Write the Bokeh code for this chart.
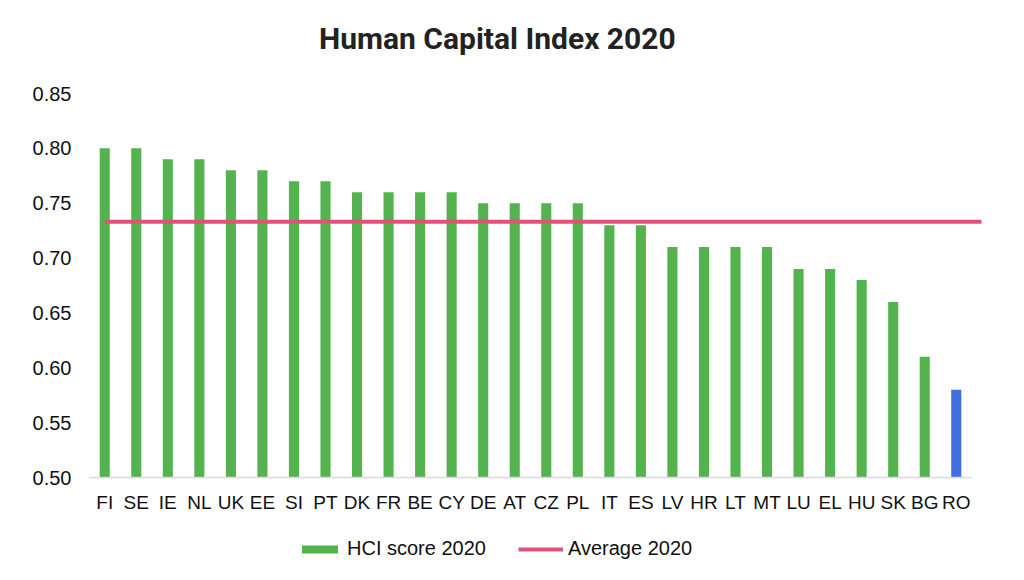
from bokeh.plotting import figure
from bokeh.models import ColumnDataSource, FactorRange, Range1d, FixedTicker, NumeralTickFormatter, Legend, LegendItem, Label
from bokeh.transform import dodge
from bokeh.core.properties import value
from bokeh.embed import file_html
from bokeh.resources import INLINE

countries = ["FI", "SE", "IE", "NL", "UK", "EE", "SI", "PT", "DK", "FR", "BE", "CY", "DE", "AT",
             "CZ", "PL", "IT", "ES", "LV", "HR", "LT", "MT", "LU", "EL", "HU", "SK", "BG", "RO"]
hci_2020 = [0.80, 0.80, 0.79, 0.79, 0.78, 0.78, 0.77, 0.77, 0.76, 0.76, 0.76, 0.76, 0.75, 0.75,
            0.75, 0.75, 0.73, 0.73, 0.71, 0.71, 0.71, 0.71, 0.69, 0.69, 0.68, 0.66, 0.61, 0.58]
average_2020 = 0.733
y_ticks = [0.50, 0.55, 0.60, 0.65, 0.70, 0.75, 0.80, 0.85]
title_text = "Human Capital Index 2020"

GREEN = "#54b34f"
BLUE = "#416fe0"
PINK = "#df5279"

# layout: value axis 0.50..0.85 spans 384 px, 93 px of room above it, 87 px below it
AXIS_PX = 384
TOP_PX = 93
BOTTOM_PX = 87
px_per_unit = AXIS_PX / (y_ticks[-1] - y_ticks[0])
y_start = y_ticks[0] - BOTTOM_PX / px_per_unit
y_end = y_ticks[-1] + TOP_PX / px_per_unit

colors = [BLUE if c == "RO" else GREEN for c in countries]
src = ColumnDataSource(dict(x=countries, top=hci_2020, color=colors))

p = figure(frame_width=902, frame_height=AXIS_PX + TOP_PX + BOTTOM_PX,
           output_backend="svg", toolbar_location=None, title_location=None,
           x_axis_location=None,
           x_range=FactorRange(*countries, range_padding=0.3, range_padding_units="absolute"),
           y_range=Range1d(y_start, y_end),
           min_border_left=79, min_border_right=27, min_border_top=0, min_border_bottom=0)
p.outline_line_color = None
p.background_fill_color = "white"
p.border_fill_color = "white"
p.grid.grid_line_color = None

bars = p.vbar(x="x", top="top", bottom=y_ticks[0], width=0.32, source=src,
              fill_color="color", line_color=None)

# baseline
base = ColumnDataSource(dict(x0=[countries[0]], x1=[countries[-1]], y=[y_ticks[0]]))
p.segment(x0=dodge("x0", -0.5, range=p.x_range), x1=dodge("x1", 0.5, range=p.x_range),
          y0="y", y1="y", source=base, line_color="#d9d9d9", line_width=1.5)

avg_src = ColumnDataSource(dict(x0=[countries[0]], x1=[countries[-1]], y=[average_2020]))
avg = p.segment(x0="x0", x1=dodge("x1", 0.95, range=p.x_range), y0="y", y1="y",
                source=avg_src, line_color=PINK, line_width=4)

# category labels under the baseline
lab_src = ColumnDataSource(dict(x=countries, text=countries))
p.text(x="x", y=y_ticks[0], text="text", source=lab_src, y_offset=14,
       text_align="center", text_baseline="top",
       text_font=value("Liberation Sans"), text_font_size="19px", text_color="#111111")

# chart title
p.add_layout(Label(x=12.95, y=y_ticks[-1] + 55 / px_per_unit, text=title_text,
                   text_align="center", text_baseline="middle",
                   text_font="Roboto", text_font_style="bold", text_font_size="30px",
                   text_color="#222222"))

p.yaxis.axis_line_color = None
p.yaxis.major_tick_line_color = None
p.yaxis.minor_tick_line_color = None
p.yaxis.ticker = FixedTicker(ticks=y_ticks)
p.yaxis.formatter = NumeralTickFormatter(format="0.00")
p.yaxis.major_label_text_font = "Liberation Sans"
p.yaxis.major_label_text_font_size = "20px"
p.yaxis.major_label_text_color = "#111111"
p.yaxis.major_label_standoff = 2

legend = Legend(items=[LegendItem(label="HCI score 2020", renderers=[bars]),
                       LegendItem(label="Average 2020", renderers=[avg])],
                orientation="horizontal", location=(218, 4),
                label_text_font="Liberation Sans", label_text_font_size="20px",
                label_text_color="#111111", glyph_width=45, glyph_height=10,
                label_standoff=5, spacing=32, border_line_color=None,
                background_fill_alpha=0, margin=0, padding=4)
p.add_layout(legend)

open("out.html", "w").write(file_html(p, INLINE))
